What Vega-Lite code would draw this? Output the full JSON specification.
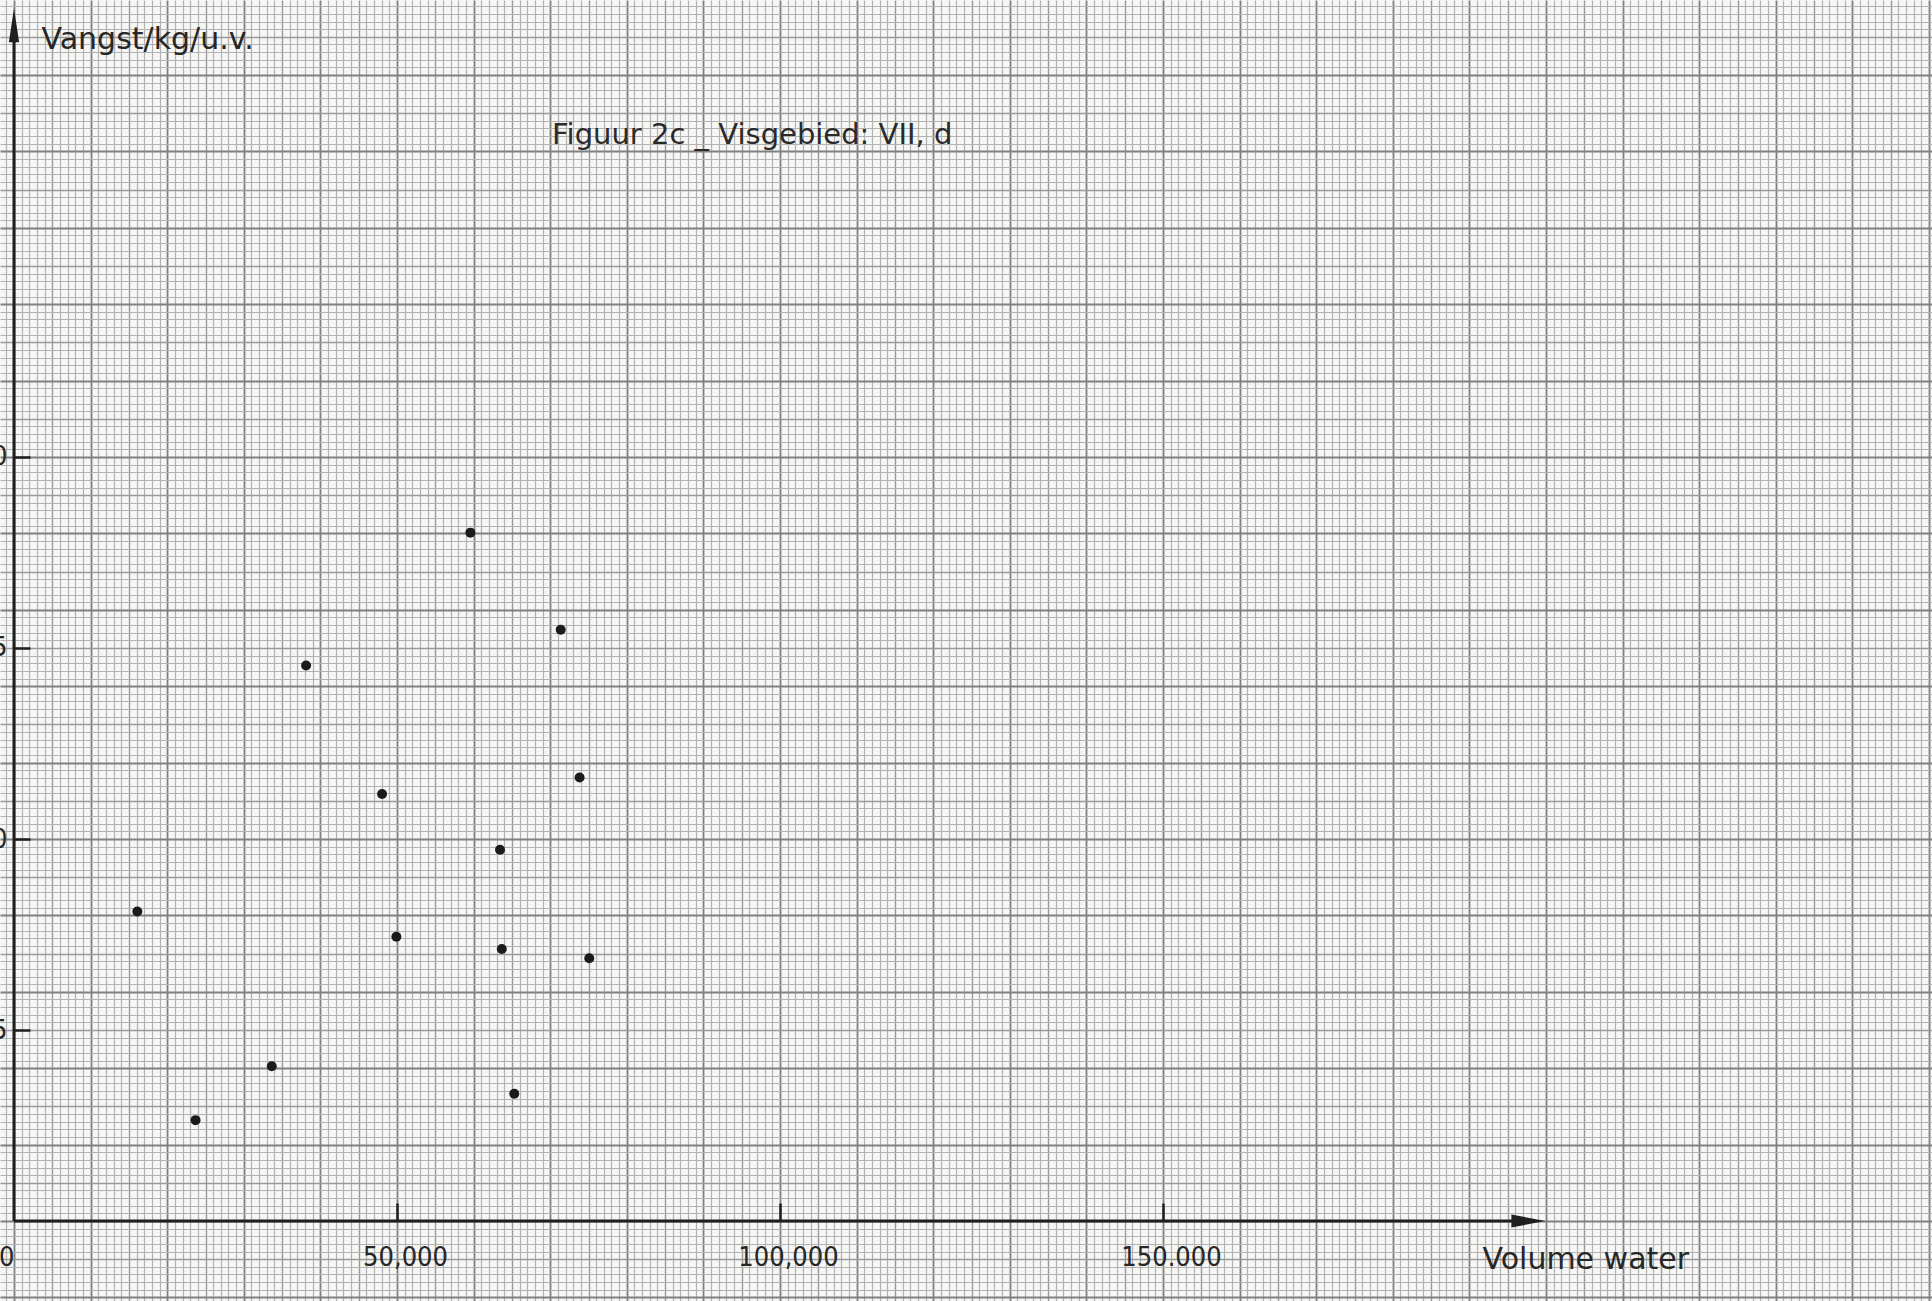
{
  "$schema": "https://vega.github.io/schema/vega-lite/v6.json",
  "width": 1932,
  "height": 1301,
  "autosize": {"type": "none"},
  "padding": 0,
  "background": "#f6f6f4",
  "config": {"view": {"stroke": null}},
  "title": {
    "text": "Figuur 2c _ Visgebied: VII, d",
    "anchor": "start",
    "frame": "group",
    "offset": 0,
    "dx": 552,
    "dy": 181,
    "baseline": "alphabetic",
    "font": "DejaVu Sans",
    "fontSize": 29,
    "fontWeight": "normal",
    "color": "#2a2a2a"
  },
  "datasets": {
    "axislines": [
      {"x": 0, "y": 0, "x2": 197700, "y2": 0},
      {"x": 0, "y": 0, "x2": 0, "y2": 31.1}
    ],
    "arrows": [
      {"x": 197700, "y": 0, "dir": "right"},
      {"x": 0, "y": 31.3, "dir": "up"}
    ],
    "points": [
      {"volume": 16100, "vangst": 8.10},
      {"volume": 23700, "vangst": 2.64},
      {"volume": 33650, "vangst": 4.05},
      {"volume": 38130, "vangst": 14.54},
      {"volume": 48050, "vangst": 11.18},
      {"volume": 49920, "vangst": 7.44},
      {"volume": 59580, "vangst": 18.02},
      {"volume": 63450, "vangst": 9.72},
      {"volume": 63680, "vangst": 7.12},
      {"volume": 65310, "vangst": 3.33},
      {"volume": 71370, "vangst": 15.48},
      {"volume": 73840, "vangst": 11.61},
      {"volume": 75100, "vangst": 6.88}
    ]
  },
  "layer": [
    {
      "data": {"name": "axislines"},
      "mark": {"type": "rule", "color": "#1f1f1f", "strokeWidth": 3},
      "encoding": {
        "x": {
          "field": "x",
          "type": "quantitative",
          "scale": {"domain": [-1827.7, 250391.6], "nice": false, "zero": false},
          "axis": {
            "orient": "bottom",
            "offset": -80,
            "tickCount": 252,
            "domain": false,
            "grid": true,
            "gridColor": {
              "condition": [
                {"test": "datum.value % 10000 === 0", "value": "#808080"},
                {"test": "datum.value % 5000 === 0", "value": "#9a9a9a"}
              ],
              "value": "#b2b2b2"
            },
            "gridWidth": {
              "condition": [
                {"test": "datum.value % 10000 === 0", "value": 1.8},
                {"test": "datum.value % 5000 === 0", "value": 1.4}
              ],
              "value": 1.2
            },
            "ticks": true,
            "tickSize": -18,
            "tickWidth": 2.5,
            "tickColor": "#1f1f1f",
            "tickOpacity": {
              "condition": {"test": "datum.value === 50000 || datum.value === 100000 || datum.value === 150000", "value": 1},
              "value": 0
            },
            "labelExpr": "datum.value === 0 ? '0' : datum.value === 50000 ? '50,000' : datum.value === 100000 ? '100,000' : datum.value === 150000 ? '150.000' : ''",
            "labelOverlap": false,
            "labelBound": false,
            "labelFlush": false,
            "labelAlign": {"condition": {"test": "datum.value === 0", "value": "right"}, "value": "center"},
            "labelBaseline": "alphabetic",
            "labelPadding": 62,
            "labelOffset": {"condition": {"test": "datum.value === 0", "value": 0}, "value": 8},
            "labelFont": "DejaVu Sans Condensed, DejaVu Sans",
            "labelFontSize": 27,
            "labelColor": "#262626",
            "title": "Volume water",
            "titleX": 1482,
            "titleY": 47,
            "titleAlign": "left",
            "titleAnchor": null,
            "titleBaseline": "alphabetic",
            "titleFont": "DejaVu Sans",
            "titleFontSize": 30,
            "titleFontWeight": "normal",
            "titleColor": "#262626"
          }
        },
        "y": {
          "field": "y",
          "type": "quantitative",
          "scale": {"domain": [-2.094, 31.963], "nice": false, "zero": false},
          "axis": {
            "orient": "left",
            "offset": -14,
            "tickCount": 170,
            "domain": false,
            "grid": true,
            "gridColor": {
              "condition": [
                {"test": "abs(datum.value / 2 - round(datum.value / 2)) < 0.001", "value": "#808080"},
                {"test": "abs(datum.value - round(datum.value)) < 0.001", "value": "#9a9a9a"}
              ],
              "value": "#b2b2b2"
            },
            "gridWidth": {
              "condition": [
                {"test": "abs(datum.value / 2 - round(datum.value / 2)) < 0.001", "value": 1.8},
                {"test": "abs(datum.value - round(datum.value)) < 0.001", "value": 1.4}
              ],
              "value": 1.2
            },
            "ticks": true,
            "tickSize": -16,
            "tickWidth": 2.5,
            "tickColor": "#1f1f1f",
            "tickOpacity": {
              "condition": {"test": "abs(datum.value - round(datum.value / 5) * 5) < 0.001 && datum.value > 1 && datum.value < 21", "value": 1},
              "value": 0
            },
            "labelExpr": "(abs(datum.value - round(datum.value / 5) * 5) < 0.001 && datum.value > 1 && datum.value < 21) ? format(round(datum.value), 'd') : ''",
            "labelOverlap": false,
            "labelBound": false,
            "labelFlush": false,
            "labelPadding": 23,
            "labelFont": "DejaVu Sans Condensed, DejaVu Sans",
            "labelFontSize": 27,
            "labelColor": "#262626",
            "title": "Vangst/kg/u.v.",
            "titleAngle": 0,
            "titleX": 27,
            "titleY": 48,
            "titleAlign": "left",
            "titleAnchor": null,
            "titleBaseline": "alphabetic",
            "titleFont": "DejaVu Sans",
            "titleFontSize": 30,
            "titleFontWeight": "normal",
            "titleColor": "#262626"
          }
        },
        "x2": {"field": "x2"},
        "y2": {"field": "y2"}
      }
    },
    {
      "data": {"name": "arrows"},
      "mark": {"type": "point", "filled": true, "size": 1156, "color": "#1f1f1f", "opacity": 1},
      "encoding": {
        "x": {"field": "x", "type": "quantitative"},
        "y": {"field": "y", "type": "quantitative"},
        "shape": {
          "field": "dir",
          "type": "nominal",
          "scale": {"domain": ["right", "up"], "range": ["M-1,-0.38L1,0L-1,0.38Z", "M-0.3,1L0,-1L0.3,1Z"]},
          "legend": null
        }
      }
    },
    {
      "data": {"name": "points"},
      "mark": {"type": "circle", "size": 100, "color": "#1b1b1b", "opacity": 1},
      "encoding": {
        "x": {"field": "volume", "type": "quantitative"},
        "y": {"field": "vangst", "type": "quantitative"}
      }
    }
  ]
}
